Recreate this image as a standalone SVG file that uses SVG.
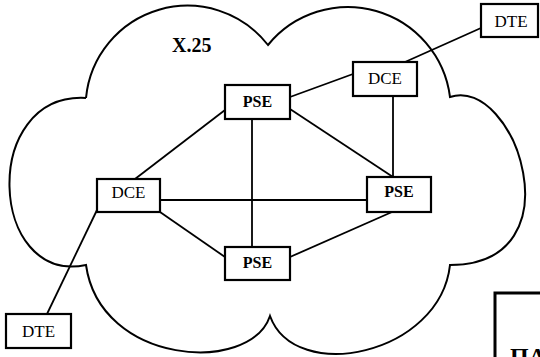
<svg xmlns="http://www.w3.org/2000/svg" width="540" height="357" viewBox="0 0 540 357">
<style>
.cloud{fill:none;stroke:#000;stroke-width:2}
.box{fill:#fff;stroke:#000;stroke-width:2.2}
.edge{stroke:#000;stroke-width:1.8;fill:none}
.lbl{font-family:"Liberation Serif",serif;font-size:17px;text-anchor:middle;fill:#000}
.pse{font-weight:bold;font-size:16px}
</style>
<rect width="540" height="357" fill="#fff"/>
<path class="cloud" d="M86,98 A102,102 0 0 1 268,45 A103,103 0 0 1 450,97 C515,75 580,265 450,265 C440,355 295,385 270,316 C250,375 100,365 86,265 C-12,285 -20,92 86,98"/>
<text x="172" y="52" style="font-family:'Liberation Serif',serif;font-size:20px;font-weight:bold">X.25</text>
<g id="connectors">
<line class="edge" x1="481" y1="28" x2="405" y2="62"/>
<line class="edge" x1="290" y1="97" x2="353" y2="74"/>
<line class="edge" x1="393" y1="96" x2="393" y2="177"/>
<line class="edge" x1="290" y1="109" x2="393" y2="177"/>
<line class="edge" x1="252" y1="119" x2="252" y2="247"/>
<line class="edge" x1="225" y1="110" x2="135" y2="179"/>
<line class="edge" x1="160" y1="200" x2="367" y2="200"/>
<line class="edge" x1="160" y1="212" x2="225" y2="257"/>
<line class="edge" x1="290" y1="257" x2="392" y2="212"/>
<line class="edge" x1="97" y1="210" x2="47" y2="314"/>
</g>
<g id="dte-top">
<rect class="box" x="481" y="4" width="57" height="33"/>
<text class="lbl" x="511" y="27">DTE</text>
</g>
<g id="dce-top">
<rect class="box" x="353" y="62" width="64" height="34"/>
<text class="lbl" x="385" y="84">DCE</text>
</g>
<g id="pse-top">
<rect class="box" x="225" y="85" width="65" height="34"/>
<text class="lbl pse" x="257.5" y="107">PSE</text>
</g>
<g id="dce-left">
<rect class="box" x="97" y="179" width="63" height="33"/>
<text class="lbl" x="128.5" y="198">DCE</text>
</g>
<g id="pse-right">
<rect class="box" x="367" y="177" width="64" height="35"/>
<text class="lbl pse" x="399" y="197">PSE</text>
</g>
<g id="pse-bottom">
<rect class="box" x="225" y="247" width="65" height="33"/>
<text class="lbl pse" x="257.5" y="268">PSE</text>
</g>
<g id="dte-bottom">
<rect class="box" x="6" y="314" width="65" height="34"/>
<text class="lbl" x="38.5" y="337">DTE</text>
</g>
<g id="partial-box">
<rect x="495" y="293" width="70" height="90" fill="#fff" stroke="#000" stroke-width="3"/>
<text x="510" y="364" style="font-family:'Liberation Serif',serif;font-size:24px;font-weight:bold">ПА</text>
</g>
</svg>
